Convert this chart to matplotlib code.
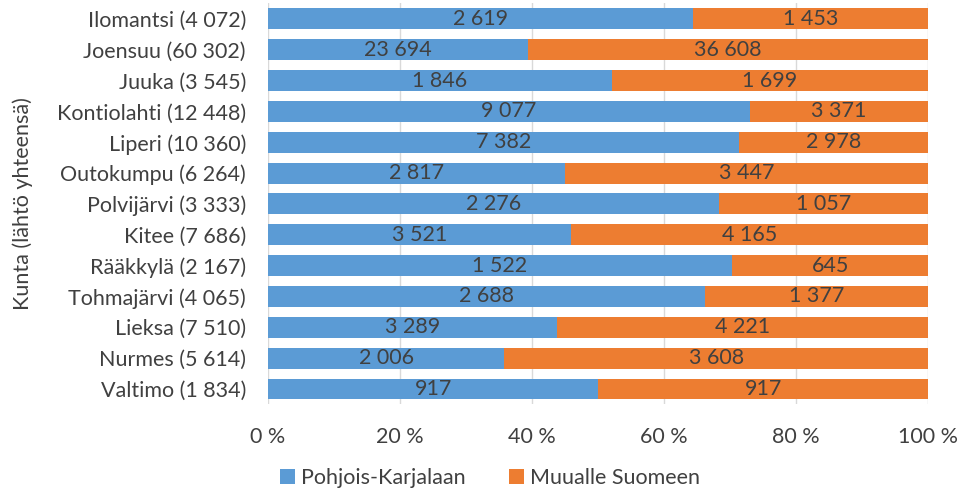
import matplotlib.pyplot as plt
import numpy as np
from matplotlib.ticker import FuncFormatter

municipalities = ['Ilomantsi', 'Joensuu', 'Juuka', 'Kontiolahti', 'Liperi', 'Outokumpu',
                  'Polvijärvi', 'Kitee', 'Rääkkylä', 'Tohmajärvi', 'Lieksa', 'Nurmes', 'Valtimo']
pohjois_karjalaan = [2619, 23694, 1846, 9077, 7382, 2817, 2276, 3521, 1522, 2688, 3289, 2006, 917]
muualle_suomeen = [1453, 36608, 1699, 3371, 2978, 3447, 1057, 4165, 645, 1377, 4221, 3608, 917]


def fmt(n):
    return f'{n:,}'.replace(',', ' ')


pk = np.array(pohjois_karjalaan, dtype=float)
ms = np.array(muualle_suomeen, dtype=float)
total = pk + ms
pk_share = pk / total * 100
ms_share = ms / total * 100
labels = [f'{m} ({fmt(int(t))})' for m, t in zip(municipalities, total)]

plt.rcParams['font.family'] = ['Lato', 'DejaVu Sans']
text_color = '#404040'
blue = '#5B9BD5'
orange = '#ED7D31'
fs = 15.5

fig = plt.figure(figsize=(9.61, 4.95), dpi=100)
ax = fig.add_axes([0.279, 0.183, 0.687, 0.81])

y = np.arange(len(municipalities))
b1 = ax.barh(y, pk_share, height=0.68, color=blue, label='Pohjois-Karjalaan', zorder=2)
b2 = ax.barh(y, ms_share, left=pk_share, height=0.68, color=orange, label='Muualle Suomeen', zorder=2)

for i in range(len(y)):
    ax.text(pk_share[i] / 2, y[i], fmt(pohjois_karjalaan[i]), ha='center', va='center',
            fontsize=fs, color=text_color, zorder=3)
    ax.text(pk_share[i] + ms_share[i] / 2, y[i], fmt(muualle_suomeen[i]), ha='center', va='center',
            fontsize=fs, color=text_color, zorder=3)

ax.set_xlim(0, 100)
ax.set_ylim(len(y) - 0.5, -0.5)
ax.set_xticks(range(0, 101, 20))
ax.xaxis.set_major_formatter(FuncFormatter(lambda v, p: f'{int(v)} %'))
ax.set_yticks(y)
ax.set_yticklabels(labels)
ax.tick_params(axis='both', length=0, labelsize=fs, colors=text_color)
ax.tick_params(axis='x', pad=16)
ax.tick_params(axis='y', pad=16)
ax.grid(axis='x', color='#D9D9D9', linewidth=1, zorder=0)
for s in ax.spines.values():
    s.set_visible(False)

ax.set_ylabel('Kunta (lähtö yhteensä)', fontsize=fs, color=text_color)
ax.yaxis.set_label_coords(-0.356, 0.5)

fig.legend(handles=[b1, b2], loc='lower center', bbox_to_anchor=(0.51, -0.025), ncol=2, frameon=False,
           fontsize=fs, labelcolor=text_color, handlelength=0.7, handleheight=0.7,
           handletextpad=0.3, columnspacing=2.0)

fig.savefig('out.png', dpi=100)
